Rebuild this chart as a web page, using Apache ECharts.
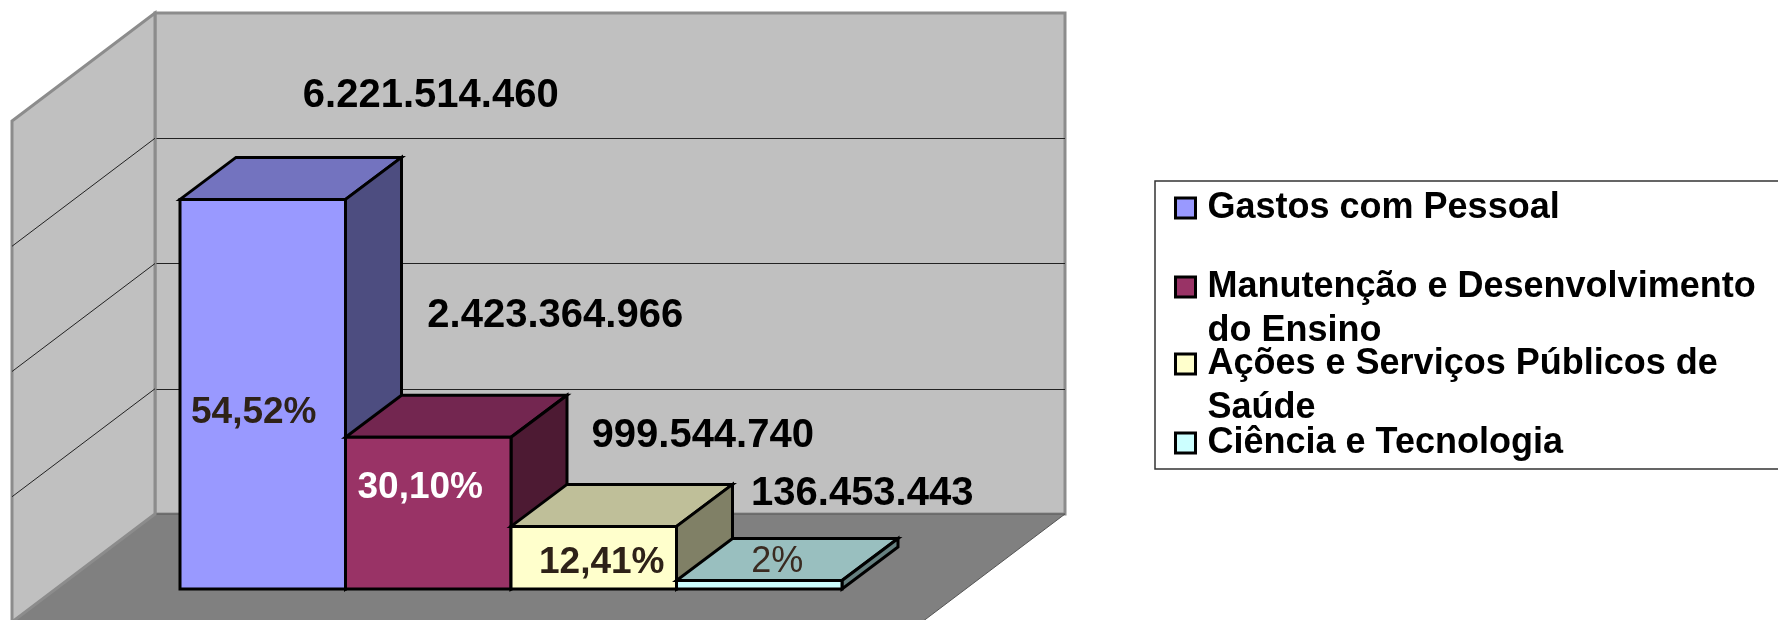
<!DOCTYPE html>
<html>
<head>
<meta charset="utf-8">
<script src="https://cdn.jsdelivr.net/npm/echarts@6/dist/echarts.min.js"></script>
<style>
  html, body { margin: 0; padding: 0; background: #fff; }
</style>
</head>
<body>
<div id="main" style="width:1778px;height:620px;"></div>
<script>
// dados
var categories = ['Gastos com Pessoal', 'Manutenção e Desenvolvimento do Ensino', 'Ações e Serviços Públicos de Saúde', 'Ciência e Tecnologia'];
var values = [6221514460, 2423364966, 999544740, 136453443];
var percents = ['54,52%', '30,10%', '12,41%', '2%'];
var gridValues = [2000000000, 4000000000, 6000000000];
var axisMax = 8000000000;
var axisStep = 2000000000;

var frontColors = ['#9999ff', '#993366', '#ffffcc', '#ccffff'];
var topColors = ['#7373bf', '#732650', '#bfbf99', '#99bfbf'];
var sideColors = ['#4d4d80', '#4d1a33', '#808066', '#668080'];
var percentColors = ['#2e2218', '#ffffff', '#2e2218', '#3a2a20'];

// texto da legenda quebrado como no original
// a linha em branco no início mantém o quadradinho alinhado com a primeira linha
var legendText = {
  'Gastos com Pessoal': 'Gastos com Pessoal',
  'Manutenção e Desenvolvimento do Ensino': '\nManutenção e Desenvolvimento\ndo Ensino',
  'Ações e Serviços Públicos de Saúde': '\nAções e Serviços Públicos de\nSaúde',
  'Ciência e Tecnologia': 'Ciência e Tecnologia'
};

var FONT = '"Liberation Sans", Arial, sans-serif';
var barDepth = [56, -42];   // deslocamento 3D das barras
var wallDepth = [-143, 108]; // deslocamento 3D da parede lateral e do piso

// rótulos foram arrastados à mão no original: deslocamento a partir do topo da barra
var valueOffset = [[168, -103], [127, -121], [109, -90], [103, -86]];
var percentOffset = [[-9, 213], [-8, 51], [8, 36], [18, -18]];

function fmt(n) {
  return String(n).replace(/\B(?=(\d{3})+$)/g, '.');
}

function poly(points, fill, stroke, width) {
  return {
    type: 'polygon',
    shape: { points: points },
    style: { fill: fill, stroke: stroke, lineWidth: width, lineJoin: 'miter' }
  };
}

function renderShell(params, api) {
  var tl = api.coord([0, axisMax]);
  var bl = api.coord([0, 0]);
  var br = api.coord([1, 0]);
  var dx = wallDepth[0], dy = wallDepth[1];
  return {
    type: 'group',
    children: [
      poly([bl, br, [br[0] + dx, br[1] + dy], [bl[0] + dx, bl[1] + dy]], '#808080', '#555555', 1),
      poly([tl, bl, [bl[0] + dx, bl[1] + dy], [tl[0] + dx, tl[1] + dy]], '#c0c0c0', '#8c8c8c', 3)
    ]
  };
}

function renderSideLine(params, api) {
  var p = api.coord([0, api.value(0)]);
  return {
    type: 'line',
    shape: { x1: p[0], y1: p[1], x2: p[0] + wallDepth[0], y2: p[1] + wallDepth[1] },
    style: { stroke: '#222222', lineWidth: 1 }
  };
}

function renderBar(params, api) {
  var i = api.value(0);
  var base = api.coord([i, 0]);
  var top = api.coord([i, api.value(1)]);
  var w = api.size([1, 0])[0];
  var x0 = base[0] - w / 2, x1 = base[0] + w / 2;
  var y0 = top[1], y1 = base[1];
  var dx = barDepth[0], dy = barDepth[1];
  var cx = base[0];
  return {
    type: 'group',
    children: [
      poly([[x0, y0], [x1, y0], [x1 + dx, y0 + dy], [x0 + dx, y0 + dy]], topColors[i], '#000', 3),
      poly([[x1, y0], [x1, y1], [x1 + dx, y1 + dy], [x1 + dx, y0 + dy]], sideColors[i], '#000', 3),
      poly([[x0, y0], [x1, y0], [x1, y1], [x0, y1]], frontColors[i], '#000', 3),
      {
        type: 'text',
        style: {
          text: percents[i],
          x: cx + percentOffset[i][0],
          y: y0 + percentOffset[i][1],
          fill: percentColors[i],
          font: (i === 3 ? 'normal 36px ' : 'bold 37px ') + FONT,
          textAlign: 'center',
          textVerticalAlign: 'middle'
        }
      },
      {
        type: 'text',
        style: {
          text: fmt(values[i]),
          x: cx + valueOffset[i][0],
          y: y0 + valueOffset[i][1],
          fill: '#000',
          font: 'bold 40px ' + FONT,
          textAlign: 'center',
          textVerticalAlign: 'middle'
        }
      }
    ]
  };
}

var series = [
  {
    type: 'custom', name: 'shell', xAxisIndex: 0, yAxisIndex: 0, z: 1, silent: true,
    data: [[0, 0]], renderItem: renderShell
  },
  {
    type: 'custom', name: 'sideLines', xAxisIndex: 0, yAxisIndex: 0, z: 2, silent: true,
    encode: { y: 0 }, data: gridValues.map(function (v) { return [v]; }), renderItem: renderSideLine
  }
];
categories.forEach(function (name, i) {
  series.push({
    type: 'custom',
    name: name,
    xAxisIndex: 1,
    yAxisIndex: 1,
    z: 3 + i,
    itemStyle: { color: frontColors[i], borderColor: '#000', borderWidth: 3 },
    encode: { x: 0, y: 1 },
    data: [[i, values[i]]],
    renderItem: renderBar
  });
});

// uma legenda por item, o espaçamento no original é irregular
var legendTops = [186, 221, 298, 421];
var legends = categories.map(function (name, i) {
  return {
    data: [{ name: name, icon: 'rect' }],
    left: 1174,
    top: legendTops[i],
    padding: 0,
    itemWidth: 20,
    itemHeight: 20,
    selectedMode: false,
    formatter: function (n) { return legendText[n]; },
    itemStyle: { color: frontColors[i], borderColor: '#000', borderWidth: 3 },
    textStyle: {
      color: '#000',
      fontFamily: FONT,
      fontWeight: 'bold',
      fontSize: 36,
      lineHeight: 44,
      padding: [0, 0, 0, 7]
    }
  };
});

var myChart = echarts.init(document.getElementById('main'));
myChart.setOption({
  animation: false,
  backgroundColor: '#fff',
  tooltip: { show: false },
  graphic: [{
    type: 'rect',
    z: 0,
    shape: { x: 1155, y: 181, width: 700, height: 288 },
    style: { fill: '#fff', stroke: '#333', lineWidth: 1.5 }
  }],
  legend: legends,
  grid: [
    // plano da parede do fundo
    { left: 155, top: 13, width: 910, height: 501, show: true, backgroundColor: '#c0c0c0', borderColor: '#8c8c8c', borderWidth: 3 },
    // plano frontal das barras
    { left: 180, top: 88, width: 662, height: 501 }
  ],
  xAxis: [
    { gridIndex: 0, type: 'value', min: 0, max: 1, axisLine: { show: false }, axisTick: { show: false }, axisLabel: { show: false }, splitLine: { show: false } },
    { gridIndex: 1, type: 'category', data: categories, show: false }
  ],
  yAxis: [
    {
      gridIndex: 0, type: 'value', min: 0, max: axisMax, interval: axisStep,
      axisLine: { show: false }, axisTick: { show: false }, axisLabel: { show: false },
      splitLine: { show: true, showMinLine: false, showMaxLine: false, lineStyle: { color: '#222', width: 1 } }
    },
    { gridIndex: 1, type: 'value', min: 0, max: axisMax, interval: axisStep, show: false }
  ],
  series: series
});
</script>
</body>
</html>
